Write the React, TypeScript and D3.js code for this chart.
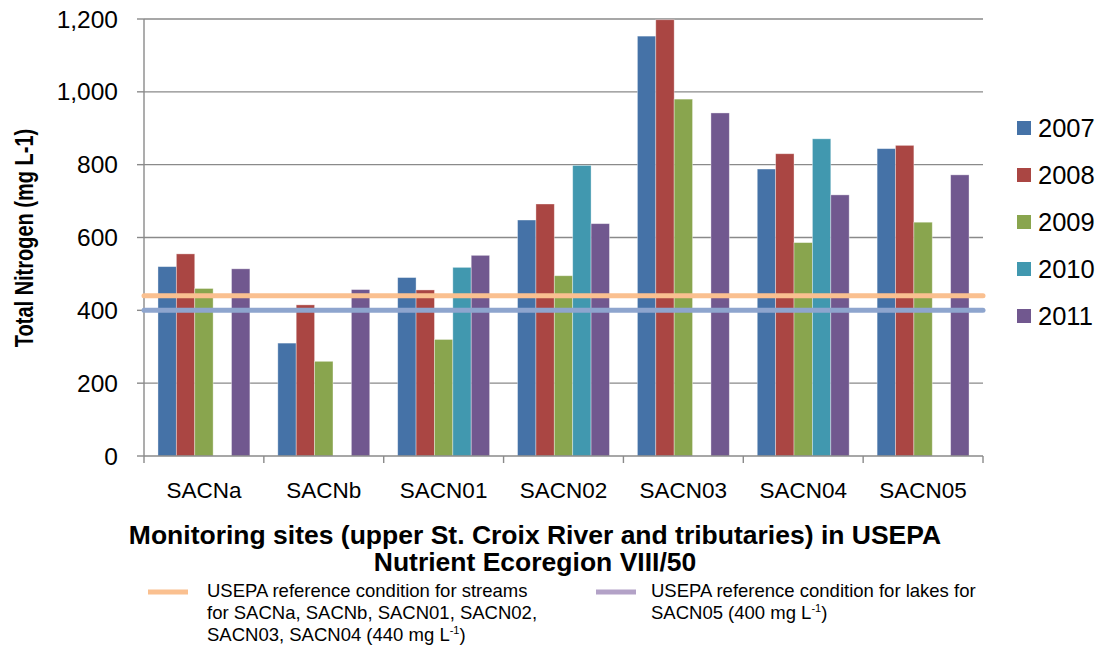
import React from 'react'
import * as d3 from 'd3'

const sites = ['SACNa', 'SACNb', 'SACN01', 'SACN02', 'SACN03', 'SACN04', 'SACN05']
const years = ['2007', '2008', '2009', '2010', '2011']
const yearColors = ['#4572A7', '#AA4643', '#89A54E', '#4198AF', '#71588F']

// Total nitrogen per site, one list per year (null = no sample)
const n2007 = [520, 310, 490, 648, 1153, 788, 844]
const n2008 = [555, 415, 456, 692, 1198, 830, 853]
const n2009 = [460, 260, 320, 495, 980, 586, 642]
const n2010 = [null, null, 518, 798, null, 871, null]
const n2011 = [514, 457, 551, 638, 942, 717, 772]
const series = [n2007, n2008, n2009, n2010, n2011]

const yTicks = [0, 200, 400, 600, 800, 1000, 1200]
const streamRef = 440
const lakeRef = 400

const font = 'Liberation Sans, Arial, sans-serif'

export default function App() {
    const width = 1101
    const height = 645
    const plot = { left: 144, right: 983, top: 19, bottom: 456 }

    const x0 = d3.scaleBand<string>().domain(sites).range([plot.left, plot.right]).padding(0)
    const x1 = d3
        .scaleBand<string>()
        .domain(years)
        .range([0, x0.bandwidth()])
        .paddingInner(0)
        .paddingOuter(0.76)
    const y = d3.scaleLinear().domain([0, 1200]).range([plot.bottom, plot.top])

    const boundaries = sites.map((s) => x0(s)!).concat([plot.right])

    return (
        <svg width={width} height={height} style={{ position: 'absolute', left: 0, top: 0 }}>
            <rect width={width} height={height} fill="#fff" />

            {/* gridlines */}
            {yTicks.slice(1).map((t) => (
                <line
                    key={t}
                    x1={plot.left}
                    x2={plot.right}
                    y1={y(t)}
                    y2={y(t)}
                    stroke="#8a8a8a"
                    strokeWidth={1.4}
                />
            ))}

            {/* bars */}
            {series.map((vals, si) =>
                vals.map((v, ci) =>
                    v == null ? null : (
                        <rect
                            key={`${si}-${ci}`}
                            x={x0(sites[ci])! + x1(years[si])!}
                            y={y(v)}
                            width={x1.bandwidth()}
                            height={y(0) - y(v)}
                            fill={yearColors[si]}
                            stroke="#ffffff"
                            strokeOpacity={0.45}
                            strokeWidth={0.8}
                        />
                    ),
                ),
            )}

            {/* axes */}
            <line x1={plot.left} x2={plot.left} y1={plot.top} y2={plot.bottom} stroke="#8a8a8a" strokeWidth={1.4} />
            <line x1={plot.left} x2={plot.right} y1={plot.bottom} y2={plot.bottom} stroke="#8a8a8a" strokeWidth={1.4} />
            {yTicks.map((t) => (
                <g key={t}>
                    <line x1={plot.left - 7} x2={plot.left} y1={y(t)} y2={y(t)} stroke="#8a8a8a" strokeWidth={1.4} />
                    <text
                        x={118}
                        y={y(t)}
                        textAnchor="end"
                        dominantBaseline="central"
                        fontFamily={font}
                        fontSize={24.5}
                        fill="#000"
                    >
                        {d3.format(',')(t)}
                    </text>
                </g>
            ))}
            {boundaries.map((b, i) => (
                <line key={i} x1={b} x2={b} y1={plot.bottom} y2={plot.bottom + 7} stroke="#8a8a8a" strokeWidth={1.4} />
            ))}
            {sites.map((s) => (
                <text
                    key={s}
                    x={x0(s)! + x0.bandwidth() / 2}
                    y={490}
                    textAnchor="middle"
                    dominantBaseline="central"
                    fontFamily={font}
                    fontSize={22.5}
                >
                    {s}
                </text>
            ))}

            {/* reference lines */}
            <line
                x1={plot.left}
                x2={plot.right}
                y1={y(streamRef)}
                y2={y(streamRef)}
                stroke="#FAC090"
                strokeWidth={5}
                strokeLinecap="round"
            />
            <line
                x1={plot.left}
                x2={plot.right}
                y1={y(lakeRef)}
                y2={y(lakeRef)}
                stroke="#8EA5CE"
                strokeWidth={5}
                strokeLinecap="round"
            />

            {/* y axis title (glyphs wider than tall, like the source picture) */}
            <text
                transform={`translate(25,238) rotate(-90) scale(1,1.25)`}
                textAnchor="middle"
                dominantBaseline="central"
                fontFamily={font}
                fontSize={20}
                fontWeight="bold"
            >
                Total Nitrogen (mg L-1)
            </text>

            {/* x axis title */}
            <text x={535} y={535} textAnchor="middle" dominantBaseline="central" fontFamily={font} fontSize={26.5} fontWeight="bold">
                Monitoring sites (upper St. Croix River and tributaries) in USEPA
            </text>
            <text x={535} y={562} textAnchor="middle" dominantBaseline="central" fontFamily={font} fontSize={26.5} fontWeight="bold">
                Nutrient Ecoregion VIII/50
            </text>

            {/* year legend */}
            {years.map((yr, i) => (
                <g key={yr} transform={`translate(1017,${128 + i * 47})`}>
                    <rect x={0} y={-7} width={14} height={14} fill={yearColors[i]} />
                    <text x={21} y={0} dominantBaseline="central" fontFamily={font} fontSize={25.5}>
                        {yr}
                    </text>
                </g>
            ))}

            {/* reference legend */}
            <line x1={148} x2={188} y1={592} y2={592} stroke="#FAC090" strokeWidth={5} />
            <text fontFamily={font} fontSize={18.5} fill="#000">
                <tspan x={207} y={597}>USEPA reference condition for streams</tspan>
                <tspan x={207} y={619}>for SACNa, SACNb, SACN01, SACN02,</tspan>
                <tspan x={207} y={641}>
                    SACN03, SACN04 (440 mg L
                    <tspan dy={-7} fontSize={11}>-1</tspan>
                    <tspan dy={7}>)</tspan>
                </tspan>
            </text>
            <line x1={596} x2={636} y1={592} y2={592} stroke="#B3A2C7" strokeWidth={5} />
            <text fontFamily={font} fontSize={18.5} fill="#000">
                <tspan x={651} y={597}>USEPA reference condition for lakes for</tspan>
                <tspan x={651} y={619}>
                    SACN05 (400 mg L
                    <tspan dy={-7} fontSize={11}>-1</tspan>
                    <tspan dy={7}>)</tspan>
                </tspan>
            </text>
        </svg>
    )
}
